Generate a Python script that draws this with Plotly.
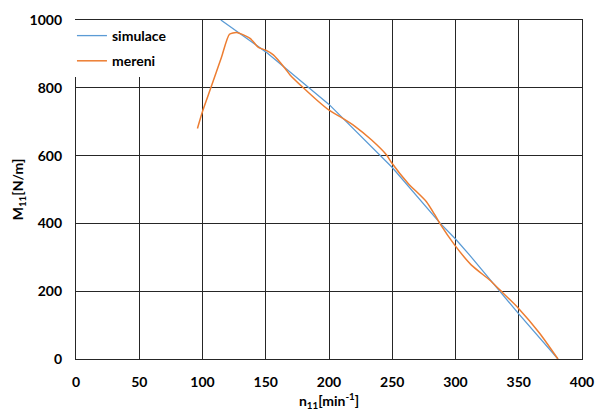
import plotly.graph_objects as go

sim_n = [114.5, 150, 200, 228, 250, 288, 300, 311, 335, 350, 381]
sim_m = [1000, 906, 751, 646, 565, 400, 354, 307, 199, 133, 0]

mer_n = [96, 100, 106.6, 115, 121.3, 127, 137.6, 144.2, 150, 156, 165.3, 169.2, 179.7,
         190.3, 200, 208.7, 220, 233.7, 245.5, 249.5, 262.6, 277, 283.7, 287.6, 299.4,
         312.6, 327, 335, 349.7, 366.5, 381]
mer_m = [680, 730, 800, 890, 958, 963, 946, 919, 911, 897, 857, 838, 800, 764, 734, 715,
         688, 646, 602, 579, 518, 464, 425, 400, 336, 277, 233, 204, 150, 76, 0]

x_ticks = [0, 50, 100, 150, 200, 250, 300, 350, 400]
y_ticks = [0, 200, 400, 600, 800, 1000]

FONT = "Lato"

fig = go.Figure()
fig.add_trace(go.Scatter(x=sim_n, y=sim_m, mode="lines", name="simulace", legendgroup="a",
                         line=dict(color="#5B9BD5", width=1.3)))
fig.add_trace(go.Scatter(x=mer_n, y=mer_m, mode="lines", name="mereni", legendgroup="b",
                         line=dict(color="#ED7D31", width=1.5, shape="spline", smoothing=0.6)))

axis_common = dict(
    showgrid=True, gridcolor="#262626", gridwidth=1.3,
    showline=True, linecolor="#262626", linewidth=1.3, mirror=True,
    zeroline=False,
    ticks="outside", ticklen=10, tickcolor="rgba(0,0,0,0)",
    tickfont=dict(family=FONT, size=14, color="black", weight="bold"),
    automargin=False,
)

fig.update_layout(
    width=595, height=414,
    margin=dict(l=76, r=13, t=20, b=55),
    paper_bgcolor="white", plot_bgcolor="white",
    font=dict(family=FONT, color="black"),
    showlegend=True,
    legend=dict(x=-0.008, y=1.0, xanchor="left", yanchor="top",
                bgcolor="rgba(255,255,255,1)", borderwidth=0,
                font=dict(family=FONT, size=14, color="black", weight="bold"),
                tracegroupgap=4, itemwidth=30),
    xaxis=dict(range=[0, 400], tickvals=x_ticks,
               title=dict(text="n<sub>11</sub>[min<sup>-1</sup>]",
                          font=dict(family=FONT, size=14, color="black", weight="bold"),
                          standoff=7),
               **axis_common),
    yaxis=dict(range=[0, 1000], tickvals=y_ticks,
               title=dict(text="M<sub>11</sub>[N/m]",
                          font=dict(family=FONT, size=14, color="black", weight="bold"),
                          standoff=2),
               **axis_common),
)

fig.write_html("out.html", config={"displayModeBar": False},
               post_script="document.body.style.margin='0px';document.body.style.overflow='hidden';")
